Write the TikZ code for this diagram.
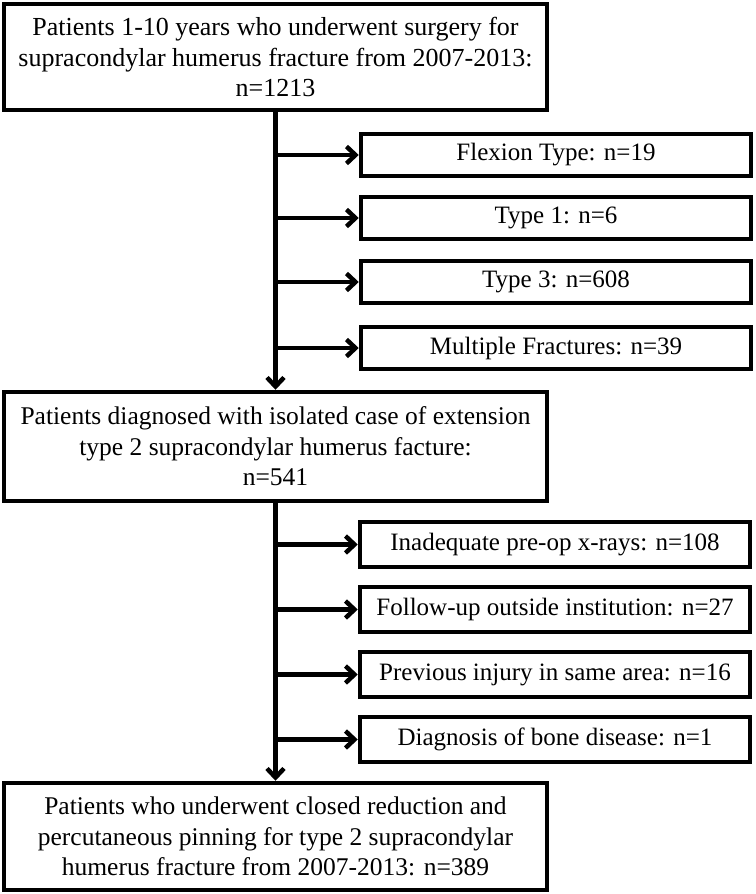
\documentclass[tikz,border=0pt]{standalone}
\usepackage{fontspec}
\setmainfont{Liberation Serif}
\usetikzlibrary{arrows.meta}

\begin{document}
\begin{tikzpicture}[x = 1pt, y = -1pt]
	\tikzstyle{mainBox} = [draw, line width = 4.5pt, rectangle, align = center, minimum width = 543pt, font = \fontsize{25.5}{30.5}\selectfont]
	\tikzstyle{exclBox} = [draw, line width = 4.5pt, rectangle, align = center, minimum width = 390pt, minimum height = 42pt, inner sep = 0pt, font = \fontsize{25}{29}\selectfont]
	\tikzstyle{flowArrow} = [line width = 4.5pt, -{Straight Barb[length = 9pt, width = 17pt, line width = 4.5pt]}]
	\useasboundingbox (0,0) rectangle (755,894);
	\node[mainBox, minimum height = 106pt, font = \fontsize{26}{30.5}\selectfont] (start) at (275.5,57) {Patients 1-10 years who underwent surgery for\\ supracondylar humerus fracture from 2007-2013:\\ n=1213};
	\node[exclBox] (flexion) at (556,155) {Flexion Type: n=19};
	\node[exclBox] (typeOne) at (556,218) {Type 1: n=6};
	\node[exclBox] (typeThree) at (556,282) {Type 3: n=608};
	\node[exclBox] (multiple) at (556,348) {Multiple Fractures: n=39};
	\node[mainBox, minimum height = 109pt] (isolated) at (275.5,446.5) {Patients diagnosed with isolated case of extension\\ type 2 supracondylar humerus facture:\\ n=541};
	\node[exclBox, minimum height = 45pt] (xrays) at (555,544.5) {Inadequate pre-op x-rays: n=108};
	\node[exclBox, minimum height = 45pt] (followup) at (555,609.5) {Follow-up outside institution: n=27};
	\node[exclBox, minimum height = 45pt] (injury) at (555,674.5) {Previous injury in same area: n=16};
	\node[exclBox, minimum height = 45pt] (disease) at (555,739.5) {Diagnosis of bone disease: n=1};
	\node[mainBox, minimum height = 107pt] (final) at (275.5,836.5) {Patients who underwent closed reduction and\\ percutaneous pinning for type 2 supracondylar\\ humerus fracture from 2007-2013: n=389};
	\draw[flowArrow] (start.south) -- (isolated.north);
	\draw[flowArrow] (isolated.south) -- (final.north);
	\draw[flowArrow] (flexion.west -| start.south) -- (flexion.west);
	\draw[flowArrow] (typeOne.west -| start.south) -- (typeOne.west);
	\draw[flowArrow] (typeThree.west -| start.south) -- (typeThree.west);
	\draw[flowArrow] (multiple.west -| start.south) -- (multiple.west);
	\draw[flowArrow] (xrays.west -| isolated.south) -- (xrays.west);
	\draw[flowArrow] (followup.west -| isolated.south) -- (followup.west);
	\draw[flowArrow] (injury.west -| isolated.south) -- (injury.west);
	\draw[flowArrow] (disease.west -| isolated.south) -- (disease.west);
\end{tikzpicture}
\end{document}
